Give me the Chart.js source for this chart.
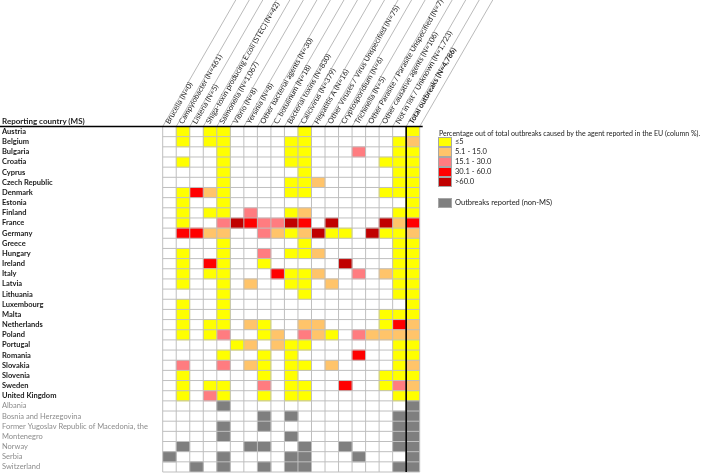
<!DOCTYPE html>
<html>
<head>
<meta charset="utf-8">
<script src="https://cdn.jsdelivr.net/npm/chart.js@4.4.0/dist/chart.umd.min.js"></script>
<style>
html,body{margin:0;padding:0;background:#fff;}
#wrap{position:relative;width:709px;height:473px;overflow:hidden;background:#fff;}
#c{position:absolute;left:0;top:0;}
.t{position:absolute;font-family:Lato,"Open Sans",sans-serif;color:#1a1a1a;white-space:nowrap;line-height:10px;}
.sw{position:absolute;box-sizing:border-box;border:1px solid #a6a6a6;}
</style>
</head>
<body>
<div id="wrap">
<canvas id="c" width="709" height="473"></canvas>
<div class="t" style="left:2px;top:116px;font-size:8px;font-weight:bold;">Reporting country (MS)</div>
<div id="legend"></div>
</div>
<script>
const n = null;
const countries = ["Austria","Belgium","Bulgaria","Croatia","Cyprus","Czech Republic","Denmark","Estonia","Finland","France",
  "Germany","Greece","Hungary","Ireland","Italy","Latvia","Lithuania","Luxembourg","Malta","Netherlands",
  "Poland","Portugal","Romania","Slovakia","Slovenia","Sweden","United Kingdom",
  "Albania","Bosnia and Herzegovina","Former Yugoslav Republic of Macedonia, the","Montenegro","Norway","Serbia","Switzerland"];
const memberState = [1,1,1,1,1,1,1,1,1,1, 1,1,1,1,1,1,1,1,1,1, 1,1,1,1,1,1,1, 0,0,0,0,0,0,0];
const agents = ["Brucella (N=0)","Campylobacter (N=461)","Listeria (N=5)","Shiga-toxin producing E.coli (STEC) (N=42)",
  "Salmonella (N=1,067)","Vibrio (N=8)","Yersinia (N=8)","Other bacterial agents (N=30)","C. botulinum (N=18)",
  "Bacterial toxins (N=830)","Calicivirus (N=379)","Hepatitis A (N=16)","Other Viruses / Virus Unspecified (N=75)",
  "Cryptosporidium (N=6)","Trichinella (N=5)","Other Parasite / Parasite Unspecified (N=7)",
  "Other causative agents (N=106)","Not in list / Unknown (N=1,723)","Total outbreaks (N=4,786)"];

// column % per reporting country (estimated within the colour class); -1 = outbreaks reported (non-MS); null = none
// rows: AT BE BG HR CY CZ DK EE FI FR | DE EL HU IE IT LV LT LU MT NL | PL PT RO SK SI SE UK | AL BA MK ME NO RS CH
const brucella        = [n,n,n,n,n,n,n,n,n,n, n,n,n,n,n,n,n,n,n,n, n,n,n,n,n,n,n, n,n,n,n,n,-1,n];
const campylobacter   = [3,3,n,3,n,n,3,3,3,3, 45,n,3,3,3,3,n,3,3,3, 3,n,n,22,3,3,3, n,n,n,n,-1,n,n];
const listeria        = [n,n,n,n,n,n,45,n,n,n, 45,n,n,n,n,n,n,n,n,n, n,n,n,n,n,n,n, n,n,n,n,n,n,-1];
const stec            = [3,3,n,n,n,n,10,n,3,n, 10,n,n,45,3,n,n,n,n,3, 3,n,n,n,n,3,22, n,n,n,n,n,n,n];
const salmonella      = [3,3,3,3,3,3,3,3,3,22, 10,3,3,3,3,3,3,3,3,3, 22,n,3,22,n,3,3, -1,n,-1,-1,n,-1,-1];
const vibrio          = [n,n,n,n,n,n,n,n,n,75, n,n,n,n,n,n,n,n,n,n, n,3,n,n,n,n,n, n,n,n,n,n,n,n];
const yersinia        = [n,n,n,n,n,n,n,n,22,45, n,n,n,n,n,10,n,n,n,10, n,10,n,10,n,n,n, n,n,n,n,-1,n,n];
const otherBacterial  = [n,n,n,n,n,n,n,n,n,22, 22,n,22,3,n,n,n,n,n,3, 3,n,3,3,3,22,3, n,-1,-1,n,-1,n,-1];
const cBotulinum      = [n,n,n,n,n,n,n,n,n,22, 10,n,n,n,45,n,n,n,n,n, 10,10,n,n,n,n,n, n,n,n,n,n,n,n];
const bacterialToxins = [n,3,3,3,n,3,3,n,3,75, 3,n,3,n,3,3,n,n,n,n, n,3,3,3,3,3,3, n,-1,n,-1,n,-1,-1];
const calicivirus     = [3,3,3,3,3,3,3,n,10,45, 10,3,3,n,3,3,3,n,n,10, 22,3,n,3,n,3,3, n,n,n,n,-1,-1,-1];
const hepatitisA      = [n,n,n,n,n,10,n,n,n,n, 75,n,10,n,10,n,n,n,n,10, 10,n,n,n,n,n,n, n,n,n,n,n,n,n];
const otherViruses    = [n,n,n,n,n,n,n,n,n,75, 3,n,n,n,n,10,n,n,n,n, 3,n,n,10,n,n,n, n,n,n,n,n,n,n];
const cryptosporidium = [n,n,n,n,n,n,n,n,n,n, 3,n,n,75,n,n,n,n,n,n, n,n,n,n,n,45,n, n,n,n,n,-1,n,n];
const trichinella     = [n,n,22,n,n,n,n,n,n,n, n,n,n,n,22,n,n,n,n,n, 22,n,45,n,n,n,n, n,n,n,n,n,-1,n];
const otherParasite   = [n,n,n,n,n,n,n,n,n,n, 75,n,n,n,n,n,n,n,n,n, 10,n,n,n,n,n,n, n,n,n,n,n,n,n];
const otherAgents     = [n,n,n,3,n,n,3,n,n,75, 3,n,n,n,10,n,n,n,3,3, 10,n,n,n,3,3,n, n,n,n,n,n,n,n];
const notInList       = [n,3,3,3,3,3,3,n,3,10, 3,3,3,3,3,3,3,n,3,45, 10,3,3,3,3,22,3, n,-1,-1,-1,-1,n,-1];
const totalOutbreaks  = [3,10,3,3,3,3,3,3,3,45, 10,3,3,3,3,3,3,3,3,10, 10,3,3,10,3,10,3, -1,-1,-1,-1,-1,-1,-1];

const columns = [brucella,campylobacter,listeria,stec,salmonella,vibrio,yersinia,otherBacterial,cBotulinum,
  bacterialToxins,calicivirus,hepatitisA,otherViruses,cryptosporidium,trichinella,otherParasite,otherAgents,notInList,totalOutbreaks];

const legendLabels = ["\u22645","5.1 - 15.0","15.1 - 30.0","30.1 - 60.0",">60.0"];
const legendColors = ["#FFFF00","#FFC46A","#FF7C80","#FF0000","#C00000"];
const greyColor = "#7F7F7F";

function colourFor(v){
  if (v === null) return "rgba(0,0,0,0)";
  if (v < 0) return greyColor;
  if (v <= 5) return legendColors[0];
  if (v <= 15) return legendColors[1];
  if (v <= 30) return legendColors[2];
  if (v <= 60) return legendColors[3];
  return legendColors[4];
}

const FONT = 'Lato, "Open Sans", sans-serif';
const gridCol = '#BFBFBF';

const datasets = columns.map((col, j) => ({
  label: agents[j],
  data: col.map(() => 1),
  backgroundColor: col.map(colourFor),
  borderWidth: 0,
  barPercentage: 1,
  categoryPercentage: 1,
  xAxisID: 'x',
  yAxisID: 'y'
}));

// cell grid drawn on top of the bars, from the scales' own positions
const cellGrid = {
  id: 'cellGrid',
  afterDatasetsDraw(chart){
    const ctx = chart.ctx;
    const xs = chart.scales.x, ys = chart.scales.y;
    const top = chart.chartArea.top, bottom = chart.chartArea.bottom;
    const left = chart.chartArea.left, right = chart.chartArea.right;
    ctx.save();
    ctx.strokeStyle = gridCol;
    ctx.lineWidth = 1;
    ctx.beginPath();
    for (let i = 0; i <= agents.length; i++){
      const x = xs.getPixelForValue(i);
      ctx.moveTo(x, top); ctx.lineTo(x, bottom);
    }
    for (let k = 0; k <= countries.length; k++){
      const y = ys.getPixelForValue(k - 0.5);
      ctx.moveTo(left, y); ctx.lineTo(right, y);
    }
    ctx.stroke();
    ctx.restore();
  }
};

const decor = {
  id: 'decor',
  afterDraw(chart){
    const ctx = chart.ctx;
    const xs = chart.scales.x;
    const top = chart.chartArea.top, bottom = chart.chartArea.bottom;
    const k = 1/Math.tan(60*Math.PI/180);
    ctx.save();
    ctx.strokeStyle = '#9C9C9C';
    ctx.lineWidth = 0.7;
    for (let i = 0; i <= agents.length; i++){
      const x = xs.getPixelForValue(i);
      ctx.beginPath();
      ctx.moveTo(x, top);
      ctx.lineTo(x + top*k, 0);
      ctx.stroke();
    }
    ctx.strokeStyle = '#000';
    ctx.lineWidth = 1.6;
    ctx.beginPath();
    ctx.moveTo(0, top);
    ctx.lineTo(xs.right + 3, top);
    ctx.stroke();
    const xt = xs.getPixelForValue(agents.length - 1);
    ctx.beginPath();
    ctx.moveTo(xt, top);
    ctx.lineTo(xt, bottom);
    ctx.stroke();
    ctx.restore();
  }
};

new Chart(document.getElementById('c'), {
  type: 'bar',
  data: { labels: countries, datasets },
  options: {
    indexAxis: 'y',
    responsive: false,
    animation: false,
    devicePixelRatio: 1,
    layout: { padding: { left: 2, right: 289.3, top: 0, bottom: 1 } },
    plugins: { legend: { display: false }, tooltip: { enabled: false } },
    scales: {
      x: {
        type: 'linear', stacked: true, min: 0, max: agents.length, position: 'bottom',
        ticks: { display: false, stepSize: 1 },
        grid: { display: false, drawTicks: false },
        border: { display: false }
      },
      xTop: {
        type: 'category', labels: agents, position: 'top', offset: true,
        grid: { display: false, drawTicks: false }, border: { display: false },
        ticks: {
          autoSkip: false, minRotation: 60, maxRotation: 60, padding: 1, labelOffset: 5.7,
          color: '#1a1a1a',
          font: (ctx) => ({ family: FONT, size: 7.5, weight: ctx.index === agents.length - 1 ? 'bold' : 'normal' })
        },
        afterFit(s){ s.height = 126.5; s.paddingLeft = 0; s.paddingRight = 0; }
      },
      y: {
        type: 'category', stacked: true, position: 'left', offset: true,
        grid: { display: false, drawTicks: false },
        border: { display: false },
        ticks: {
          crossAlign: 'far', padding: 0, autoSkip: false,
          color: (ctx) => memberState[ctx.index] ? '#1a1a1a' : '#8C8C8C',
          font: (ctx) => ({ family: FONT, size: 7.5, weight: memberState[ctx.index] ? 'bold' : 'normal' })
        },
        afterFit(s){ s.width = 160.7; s.paddingTop = 0; s.paddingBottom = 0; }
      }
    }
  },
  plugins: [cellGrid, decor]
});

// legend
const lg = document.getElementById('legend');
let html = '<div class="t" style="left:439px;top:128px;font-size:7px;">Percentage out of total outbreaks caused by the agent reported in the EU (column %).</div>';
legendLabels.forEach((lab, i) => {
  const top = 137 + i*10;
  html += `<div class="sw" style="left:438px;top:${top}px;width:14px;height:10px;background:${legendColors[i]}"></div>`;
  html += `<div class="t" style="left:455px;top:${top}px;font-size:7.5px;">${lab}</div>`;
});
html += `<div class="sw" style="left:438px;top:198px;width:14px;height:10px;background:${greyColor}"></div>`;
html += `<div class="t" style="left:455px;top:198px;font-size:7.5px;">Outbreaks reported (non-MS)</div>`;
lg.innerHTML = html;
</script>
</body>
</html>
